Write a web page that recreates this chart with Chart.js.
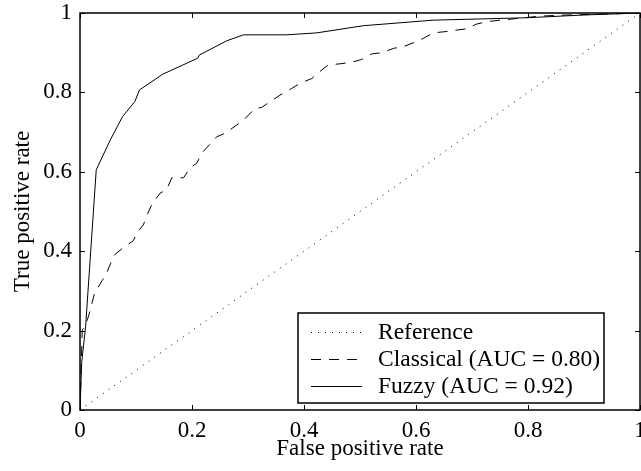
<!DOCTYPE html>
<html>
<head>
<meta charset="utf-8">
<script src="https://cdn.jsdelivr.net/npm/chart.js@4/dist/chart.umd.min.js"></script>
<style>
	html, body { margin: 0; padding: 0; background: #fff; overflow: hidden; }
	#wrap { width: 641px; height: 471px; overflow: hidden; }
</style>
</head>
<body>
<div id="wrap"><canvas id="roc" width="650" height="471"></canvas></div>
<script>
// =================== DATA ===================
const refFpr = [0, 1];
const refTpr = [0, 1];

const classicalFpr = [
	0, 0.004, 0.013, 0.016, 0.026, 0.04, 0.046, 0.055, 0.061, 0.079, 0.095, 0.104,
	0.113, 0.121, 0.129, 0.143, 0.155, 0.164, 0.185, 0.196, 0.208, 0.22, 0.244,
	0.259, 0.28, 0.292, 0.3125, 0.324, 0.357, 0.378, 0.393, 0.414, 0.426, 0.443,
	0.464, 0.485, 0.503, 0.521, 0.539, 0.56, 0.577, 0.601, 0.613, 0.631, 0.652,
	0.673, 0.69, 0.708, 0.726, 0.75, 0.78, 0.82, 0.869, 0.929, 1,
];
const classicalTpr = [
	0, 0.2, 0.227, 0.24, 0.294, 0.327, 0.34, 0.37, 0.39, 0.411, 0.426, 0.451,
	0.466, 0.495, 0.52, 0.546, 0.556, 0.585, 0.585, 0.609, 0.621, 0.651, 0.688,
	0.697, 0.718, 0.73, 0.76, 0.762, 0.793, 0.81, 0.823, 0.835, 0.85, 0.869,
	0.872, 0.876, 0.883, 0.897, 0.9, 0.911, 0.915, 0.928, 0.936, 0.95, 0.953,
	0.957, 0.96, 0.972, 0.978, 0.982, 0.986, 0.992, 0.995, 0.997, 1,
];

const fuzzyFpr = [
	0, 0.003, 0.01, 0.029, 0.054, 0.076, 0.098, 0.106, 0.148, 0.21, 0.213, 0.262,
	0.292, 0.369, 0.423, 0.506, 0.631, 0.798, 0.9, 1,
];
const fuzzyTpr = [
	0, 0.12, 0.21, 0.605, 0.68, 0.739, 0.777, 0.806, 0.846, 0.886, 0.894, 0.93,
	0.945, 0.945, 0.95, 0.968, 0.982, 0.988, 0.995, 1,
];

const seriesLabels = ["Reference", "Classical (AUC = 0.80)", "Fuzzy (AUC = 0.92)"];
const axisTicks = [0, 0.2, 0.4, 0.6, 0.8, 1];

// =================== UTILITY ===================
function toPoints(xs, ys) {
	return xs.map((x, i) => ({ x, y: ys[i] }));
}

function tickText(v) {
	return String(Number(v.toFixed(1)));
}

const SERIF = "'Liberation Serif', 'Times New Roman', serif";

// box, inward ticks and legend drawn like a matlab figure
const matlabFrame = {
	id: "matlabFrame",
	afterDraw(chart) {
		const { ctx, chartArea: a, scales } = chart;
		ctx.save();
		ctx.strokeStyle = "#000";
		ctx.lineWidth = 1;
		ctx.setLineDash([]);
		ctx.beginPath();
		scales.x.ticks.forEach((t) => {
			const px = Math.round(scales.x.getPixelForValue(t.value)) + 0.5;
			ctx.moveTo(px, a.bottom);
			ctx.lineTo(px, a.bottom - 5);
			ctx.moveTo(px, a.top);
			ctx.lineTo(px, a.top + 5);
		});
		scales.y.ticks.forEach((t) => {
			const py = Math.round(scales.y.getPixelForValue(t.value)) + 0.5;
			ctx.moveTo(a.left, py);
			ctx.lineTo(a.left + 5, py);
			ctx.moveTo(a.right, py);
			ctx.lineTo(a.right - 5, py);
		});
		ctx.stroke();

		ctx.lineWidth = 1.5;
		ctx.strokeRect(a.left, a.top, a.right - a.left, a.bottom - a.top);

		// legend
		const box = { left: a.right - 342, top: a.bottom - 97, w: 306, h: 90 };
		ctx.fillStyle = "#fff";
		ctx.fillRect(box.left, box.top, box.w, box.h);
		ctx.strokeRect(box.left, box.top, box.w, box.h);
		ctx.font = `23.5px ${SERIF}`;
		ctx.textBaseline = "middle";
		ctx.textAlign = "left";
		ctx.fillStyle = "#000";
		chart.data.datasets.forEach((ds, i) => {
			const y = box.top + 19 + i * 27;
			ctx.beginPath();
			ctx.lineWidth = ds.borderWidth;
			ctx.strokeStyle = ds.borderColor;
			ctx.setLineDash(ds.borderDash || []);
			ctx.moveTo(box.left + 13, y + 0.5);
			ctx.lineTo(box.left + 64, y + 0.5);
			ctx.stroke();
			ctx.fillText(ds.label, box.left + 80, y + 1);
		});
		ctx.restore();
	},
};

// =================== CHART ===================
Chart.defaults.font.family = SERIF;
Chart.defaults.font.size = 23;
Chart.defaults.color = "#000";

new Chart(document.getElementById("roc"), {
	type: "scatter",
	data: {
		datasets: [
			{
				label: seriesLabels[0],
				data: toPoints(refFpr, refTpr),
				showLine: true,
				borderColor: "#000",
				borderWidth: 1,
				borderDash: [1, 6],
				pointRadius: 0,
			},
			{
				label: seriesLabels[1],
				data: toPoints(classicalFpr, classicalTpr),
				showLine: true,
				borderColor: "#000",
				borderWidth: 1,
				borderDash: [10, 8],
				pointRadius: 0,
			},
			{
				label: seriesLabels[2],
				data: toPoints(fuzzyFpr, fuzzyTpr),
				showLine: true,
				borderColor: "#000",
				borderWidth: 1,
				pointRadius: 0,
			},
		],
	},
	options: {
		responsive: false,
		animation: false,
		layout: { padding: { top: 13, right: 10, left: 0, bottom: 0 } },
		plugins: {
			legend: { display: false },
			tooltip: { enabled: false },
		},
		scales: {
			x: {
				type: "linear",
				min: 0,
				max: 1,
				afterBuildTicks: (s) => {
					s.ticks = axisTicks.map((v) => ({ value: v }));
				},
				afterFit: (s) => {
					s.height = 61;
					s.paddingLeft = 0;
					s.paddingRight = 0;
				},
				grid: { display: false, drawTicks: false },
				border: { display: false },
				ticks: { padding: 7, maxRotation: 0, callback: tickText },
				title: {
					display: true,
					text: "False positive rate",
					padding: { top: 0, bottom: 8 },
				},
			},
			y: {
				type: "linear",
				min: 0,
				max: 1,
				afterBuildTicks: (s) => {
					s.ticks = axisTicks.map((v) => ({ value: v }));
				},
				afterFit: (s) => {
					s.width = 80;
					s.paddingTop = 0;
					s.paddingBottom = 0;
				},
				grid: { display: false, drawTicks: false },
				border: { display: false },
				ticks: { padding: 8, callback: tickText },
				title: {
					display: true,
					text: "True positive rate",
					padding: { top: 9, bottom: 0 },
				},
			},
		},
	},
	plugins: [matlabFrame],
});
</script>
</body>
</html>
